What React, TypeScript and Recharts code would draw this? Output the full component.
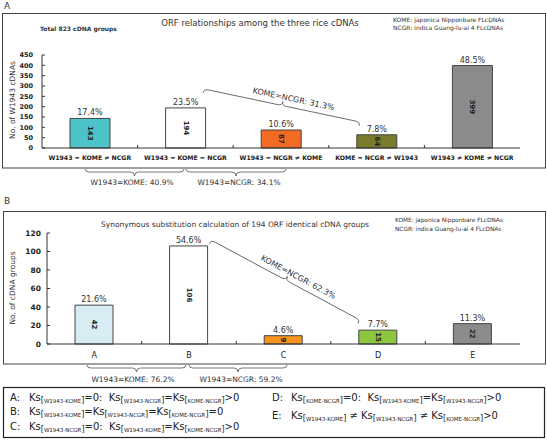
import { BarChart, Bar, XAxis, YAxis, Cell, LabelList } from "recharts";

// panel A: ORF relationships
const orfCategories = [
  "W1943 = KOME ≠ NCGR",
  "W1943 = KOME = NCGR",
  "W1943 = NCGR ≠ KOME",
  "KOME = NCGR ≠ W1943",
  "W1943 ≠ KOME ≠ NCGR",
];
const orfCounts = [143, 194, 87, 64, 399];
const orfPercents = ["17.4%", "23.5%", "10.6%", "7.8%", "48.5%"];
const orfColors = ["#4cc3c8", "#ffffff", "#f26b22", "#7b7b2e", "#8b8b8b"];
const orfTicks = [0, 50, 100, 150, 200, 250, 300, 350, 400, 450];

// panel B: Ks classes
const ksCategories = ["A", "B", "C", "D", "E"];
const ksCounts = [42, 106, 9, 15, 22];
const ksPercents = ["21.6%", "54.6%", "4.6%", "7.7%", "11.3%"];
const ksColors = ["#d7edf3", "#ffffff", "#f7941e", "#8dc63f", "#8b8b8b"];
const ksTicks = [0, 20, 40, 60, 80, 100, 120];

const ksDefinitions = [
  ["A:", "Ks_{W1943-KOME}=0:  Ks_{W1943-NCGR}=Ks_{KOME-NCGR}>0"],
  ["B:", "Ks_{W1943-KOME}=Ks_{W1943-NCGR}=Ks_{KOME-NCGR}=0"],
  ["C:", "Ks_{W1943-NCGR}=0:  Ks_{W1943-KOME}=Ks_{KOME-NCGR}>0"],
  ["D:", "Ks_{KOME-NCGR}=0:  Ks_{W1943-KOME}=Ks_{W1943-NCGR}>0"],
  ["E:", "Ks_{W1943-KOME} ≠ Ks_{W1943-NCGR} ≠ Ks_{KOME-NCGR}>0"],
];

const FONT = "'DejaVu Sans', Verdana, sans-serif";
const INK = "#333";

const orfData = orfCategories.map((name, i) => ({ name, count: orfCounts[i], pct: orfPercents[i] }));
const ksData = ksCategories.map((name, i) => ({ name, count: ksCounts[i], pct: ksPercents[i] }));

// plot-area geometry (layout only)
const A_LEFT = 42, A_RIGHT = 520, A_BOTTOM = 148;
const B_LEFT = 47, B_RIGHT = 520, B_BOTTOM = 344;

function CountLabel(props: any) {
  const { x, y, width, height, value } = props;
  const cx = x + width / 2;
  const cy = y + height / 2;
  return (
    <text x={cx} y={cy} transform={`rotate(90 ${cx} ${cy})`} textAnchor="middle" dominantBaseline="central"
      fontSize={7} fontWeight="bold" fontFamily={FONT} fill="#222">
      {value}
    </text>
  );
}

function yTick(size: number, gap: number) {
  return (props: any) => {
    const { x, y, payload } = props;
    return (
      <g>
        <line x1={x + gap} x2={x + gap + 3} y1={y} y2={y} stroke={INK} />
        <text x={x} y={y} dy="0.35em" textAnchor="end" fontSize={size} fontWeight="bold" fontFamily={FONT} fill="#222">
          {payload.value}
        </text>
      </g>
    );
  };
}

function Brace({ x1, y1, x2, y2, end, tip }: { x1: number; y1: number; x2: number; y2: number; end: number; tip: number }) {
  const L = Math.hypot(x2 - x1, y2 - y1);
  const ang = (Math.atan2(y2 - y1, x2 - x1) * 180) / Math.PI;
  const r = 4;
  const m = L / 2;
  const d = `M0,${end} Q0,0 ${r},0 L${m - r},0 Q${m},0 ${m},${tip} Q${m},0 ${m + r},0 L${L - r},0 Q${L},0 ${L},${end}`;
  return <path transform={`translate(${x1},${y1}) rotate(${ang})`} d={d} fill="none" stroke="#555" strokeWidth={0.8} />;
}

function DiagonalBrace({ x1, y1, x2, y2, text }: { x1: number; y1: number; x2: number; y2: number; text: string }) {
  const L = Math.hypot(x2 - x1, y2 - y1);
  const ang = (Math.atan2(y2 - y1, x2 - x1) * 180) / Math.PI;
  return (
    <g>
      <Brace x1={x1} y1={y1} x2={x2} y2={y2} end={4} tip={-4} />
      <text transform={`translate(${x1},${y1}) rotate(${ang})`} x={L / 2 + 10} y={-6} textAnchor="middle"
        fontSize={8} fontFamily={FONT} fill={INK}>
        {text}
      </text>
    </g>
  );
}

function KsLine({ x, y, label, expr }: { x: number; y: number; label: string; expr: string }) {
  const parts = expr.split(/(Ks_\{[^}]+\})/).filter(Boolean);
  const spans: any[] = [];
  let shifted = false;
  parts.forEach((p, i) => {
    const m = p.match(/^Ks_\{([^}]+)\}$/);
    if (m) {
      spans.push(<tspan key={i + "k"} dy={shifted ? -2 : 0} fontSize={10}>Ks</tspan>);
      spans.push(<tspan key={i + "o"} dy={2} fontSize={8}>[</tspan>);
      spans.push(<tspan key={i + "s"} fontSize={5.5}>{m[1]}</tspan>);
      spans.push(<tspan key={i + "c"} fontSize={8}>]</tspan>);
      shifted = true;
    } else {
      spans.push(<tspan key={i} dy={shifted ? -2 : 0} fontSize={10}>{p}</tspan>);
      shifted = false;
    }
  });
  return (
    <g fontFamily={FONT} fill="#222">
      <text x={x} y={y} fontSize={10}>{label}</text>
      <text x={x + 19} y={y} xmlSpace="preserve" style={{ whiteSpace: "pre" }}>{spans}</text>
    </g>
  );
}

export default function App() {
  const aBand = (A_RIGHT - A_LEFT) / orfCategories.length;
  const bBand = (B_RIGHT - B_LEFT) / ksCategories.length;
  return (
    <div style={{ position: "relative", width: 547, height: 440, background: "#fff" }}>
      <style>{"body{margin:0}"}</style>

      <div style={{ position: "absolute", left: 0, top: 0 }}>
        <BarChart width={547} height={172} data={orfData} margin={{ top: 55, right: 547 - A_RIGHT, left: 2, bottom: 6 }}>
          <XAxis dataKey="name" height={18} interval={0} tickLine={false} stroke={INK}
            tick={{ fontSize: 6.2, fontWeight: "bold", fill: "#222", fontFamily: FONT }} />
          <YAxis width={40} domain={[0, 450]} ticks={orfTicks} interval={0} tickLine={false} tickSize={0}
            tickMargin={9} stroke={INK} tick={yTick(6.5, 9)} />
          <Bar dataKey="count" barSize={40} stroke="#444" strokeWidth={1} isAnimationActive={false}>
            {orfData.map((d, i) => (
              <Cell key={d.name} fill={orfColors[i]} />
            ))}
            <LabelList dataKey="pct" position="top" offset={3} fontSize={8} fontFamily={FONT} fill={INK} />
            <LabelList dataKey="count" content={CountLabel} />
          </Bar>
        </BarChart>
      </div>

      <div style={{ position: "absolute", left: 0, top: 200 }}>
        <BarChart width={547} height={170} data={ksData} margin={{ top: 33, right: 547 - B_RIGHT, left: 5, bottom: 8 }}>
          <XAxis dataKey="name" height={18} interval={0} tickLine={false} stroke={INK}
            tick={{ fontSize: 8, fill: "#222", fontFamily: FONT }} />
          <YAxis width={42} domain={[0, 120]} ticks={ksTicks} interval={0} tickLine={false} tickSize={0}
            tickMargin={6} stroke={INK} tick={yTick(7.5, 6)} />
          <Bar dataKey="count" barSize={38} stroke="#444" strokeWidth={1} isAnimationActive={false}>
            {ksData.map((d, i) => (
              <Cell key={d.name} fill={ksColors[i]} />
            ))}
            <LabelList dataKey="pct" position="top" offset={3} fontSize={8} fontFamily={FONT} fill={INK} />
            <LabelList dataKey="count" content={CountLabel} />
          </Bar>
        </BarChart>
      </div>

      <svg width={547} height={440} style={{ position: "absolute", left: 0, top: 0, pointerEvents: "none" }}>
        {/* panel A frame and texts */}
        <text x={4} y={9} fontSize={9} fontFamily={FONT} fill={INK}>A</text>
        <rect x={2.5} y={13.5} width={543} height={154.5} fill="none" stroke="#444" strokeWidth={1} />
        <text x={260} y={26} textAnchor="middle" fontSize={8.5} fontFamily={FONT} fill={INK}>
          ORF relationships among the three rice cDNAs
        </text>
        <text x={40} y={31} fontSize={6} fontWeight="bold" fontFamily={FONT} fill={INK}>Total 823 cDNA groups</text>
        <text x={393} y={22} fontSize={6} fontFamily={FONT} fill={INK}>KOME: japonica Nipponbare FLcDNAs</text>
        <text x={393} y={30} fontSize={6} fontFamily={FONT} fill={INK}>NCGR: indica Guang-lu-ai 4 FLcDNAs</text>
        <text transform="translate(15,100) rotate(-90)" textAnchor="middle" fontSize={7.5} fontFamily={FONT} fill={INK}>
          No. of W1943 cDNAs
        </text>
        {[1, 2, 3, 4].map((i) => (
          <line key={"ta" + i} x1={A_LEFT + aBand * i} x2={A_LEFT + aBand * i} y1={A_BOTTOM - 3} y2={A_BOTTOM} stroke={INK} />
        ))}
        <DiagonalBrace x1={204} y1={89} x2={360} y2={122} text="KOME=NCGR: 31.3%" />
        <Brace x1={85} y1={172} x2={184} y2={172} end={-3} tip={4} />
        <Brace x1={186} y1={172} x2={286} y2={172} end={-3} tip={4} />
        <text x={132} y={185} textAnchor="middle" fontSize={7.5} fontFamily={FONT} fill={INK}>W1943=KOME: 40.9%</text>
        <text x={239} y={185} textAnchor="middle" fontSize={7.5} fontFamily={FONT} fill={INK}>W1943=NCGR: 34.1%</text>

        {/* panel B frame and texts */}
        <text x={4} y={204} fontSize={9} fontFamily={FONT} fill={INK}>B</text>
        <rect x={3.5} y={211.5} width={542} height={152.5} fill="none" stroke="#444" strokeWidth={1} />
        <text x={235} y={227} textAnchor="middle" fontSize={7.5} fontFamily={FONT} fill={INK}>
          Synonymous substitution calculation of 194 ORF identical cDNA groups
        </text>
        <text x={395} y={222} fontSize={5.8} fontFamily={FONT} fill={INK}>KOME: japonica Nipponbare FLcDNAs</text>
        <text x={395} y={231} fontSize={5.8} fontFamily={FONT} fill={INK}>NCGR: indica Guang-lu-ai 4 FLcDNAs</text>
        <text transform="translate(15,288) rotate(-90)" textAnchor="middle" fontSize={7.5} fontFamily={FONT} fill={INK}>
          No. of cDNA groups
        </text>
        {[1, 2, 3, 4].map((i) => (
          <line key={"tb" + i} x1={B_LEFT + bBand * i} x2={B_LEFT + bBand * i} y1={B_BOTTOM - 3} y2={B_BOTTOM} stroke={INK} />
        ))}
        <DiagonalBrace x1={211} y1={240} x2={360} y2={320} text="KOME=NCGR: 62.3%" />
        <Brace x1={87} y1={368} x2={186} y2={368} end={-3} tip={4} />
        <Brace x1={189} y1={368} x2={287} y2={368} end={-3} tip={4} />
        <text x={133} y={382} textAnchor="middle" fontSize={7.5} fontFamily={FONT} fill={INK}>W1943=KOME: 76.2%</text>
        <text x={241} y={382} textAnchor="middle" fontSize={7.5} fontFamily={FONT} fill={INK}>W1943=NCGR: 59.2%</text>

        {/* Ks definitions box */}
        <rect x={3.5} y={387.5} width={541} height={50} fill="none" stroke="#222" strokeWidth={1.2} />
        <KsLine x={10} y={401} label={ksDefinitions[0][0]} expr={ksDefinitions[0][1]} />
        <KsLine x={10} y={415} label={ksDefinitions[1][0]} expr={ksDefinitions[1][1]} />
        <KsLine x={10} y={430} label={ksDefinitions[2][0]} expr={ksDefinitions[2][1]} />
        <KsLine x={272} y={401} label={ksDefinitions[3][0]} expr={ksDefinitions[3][1]} />
        <KsLine x={272} y={419} label={ksDefinitions[4][0]} expr={ksDefinitions[4][1]} />
      </svg>
    </div>
  );
}
